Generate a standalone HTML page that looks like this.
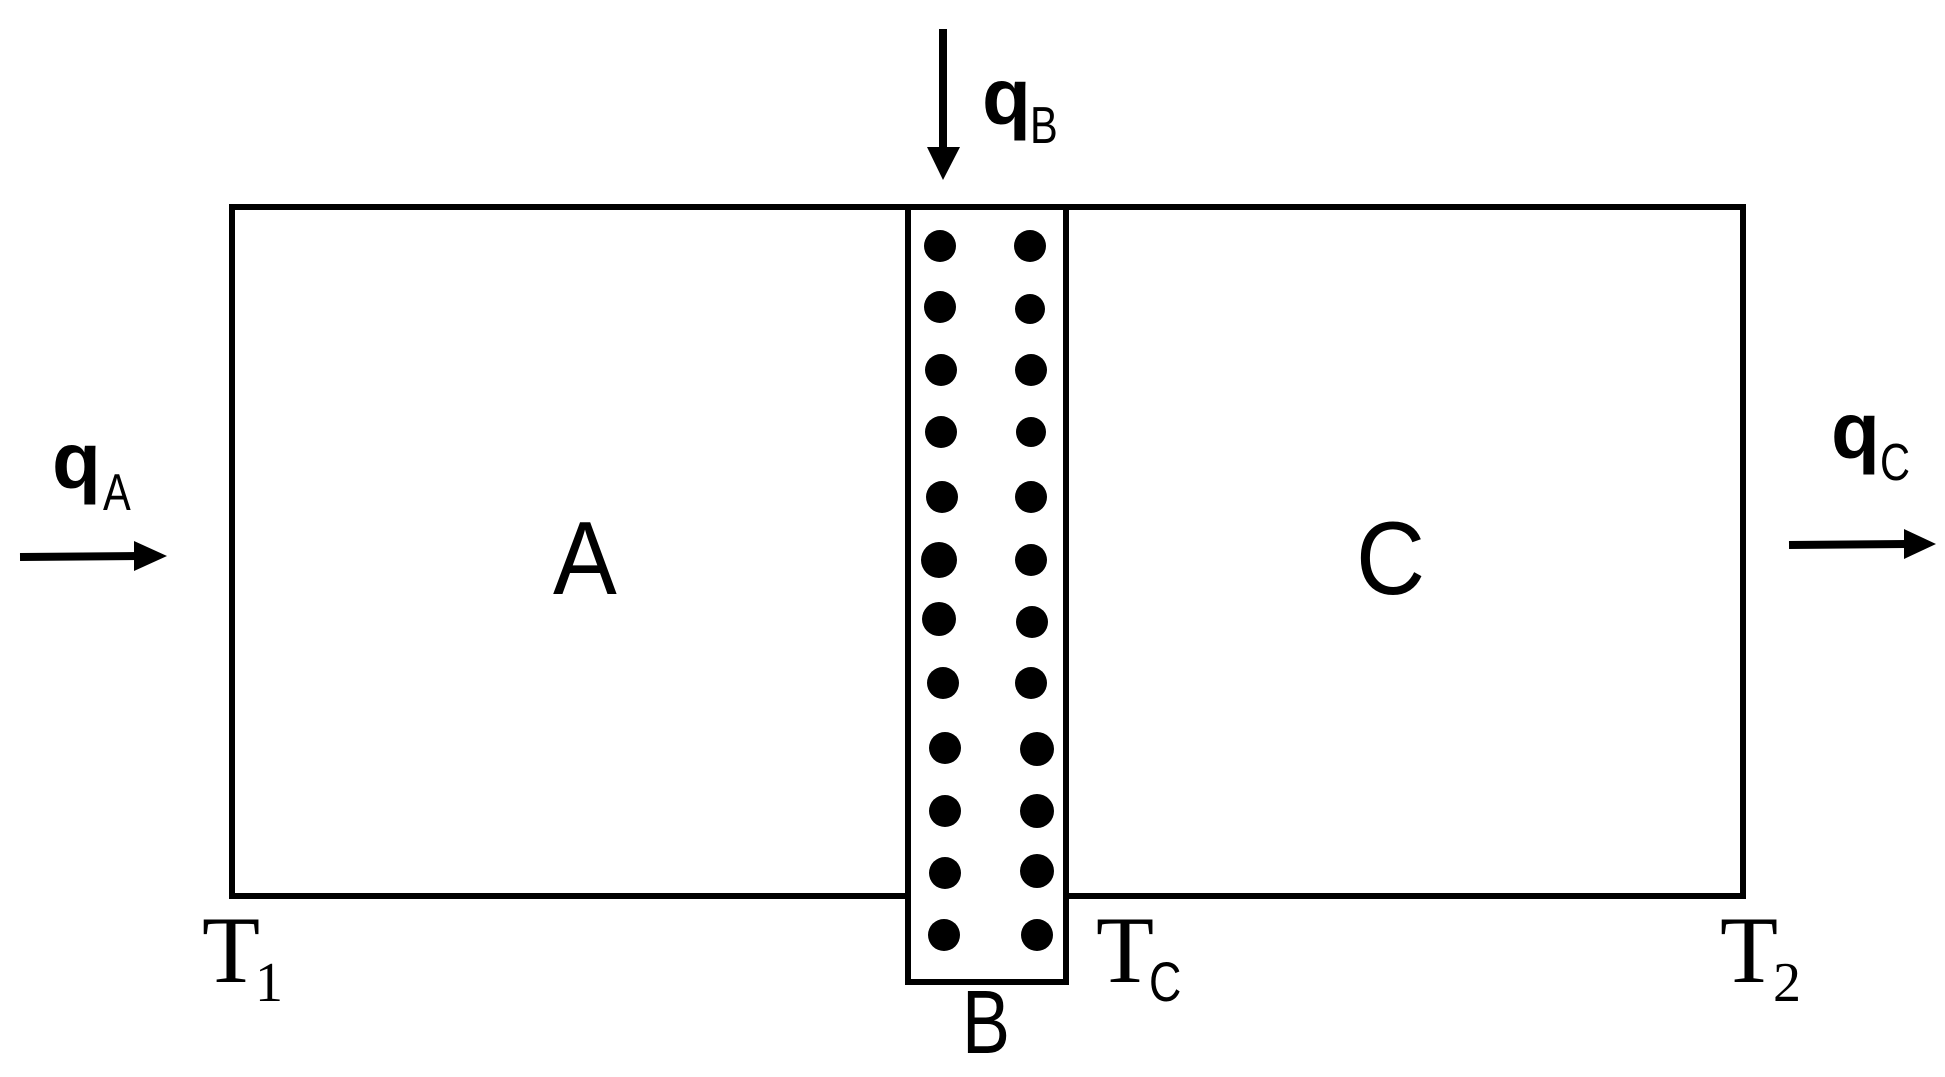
<!DOCTYPE html>
<html><head><meta charset="utf-8"><style>html,body{margin:0;padding:0;background:#fff}</style></head>
<body>
<svg width="1945" height="1072" viewBox="0 0 1945 1072" xmlns="http://www.w3.org/2000/svg">
<rect x="0" y="0" width="1945" height="1072" fill="#fff"/>
<g stroke="#000" stroke-width="6" fill="none">
<rect x="232" y="207" width="1511" height="689"/>
<rect x="908" y="207" width="158" height="775" fill="#fff"/>
</g>
<g fill="#000">
<circle cx="940" cy="246" r="16"/><circle cx="1030" cy="246" r="16"/>
<circle cx="940" cy="307" r="16"/><circle cx="1030" cy="309" r="15"/>
<circle cx="941" cy="370" r="16"/><circle cx="1031" cy="370" r="16"/>
<circle cx="941" cy="432" r="16"/><circle cx="1031" cy="432" r="15"/>
<circle cx="942" cy="497" r="16"/><circle cx="1031" cy="497" r="16"/>
<circle cx="939" cy="560" r="18"/><circle cx="1031" cy="560" r="16"/>
<circle cx="939" cy="619" r="17"/><circle cx="1032" cy="622" r="16"/>
<circle cx="943" cy="683" r="16"/><circle cx="1031" cy="683" r="16"/>
<circle cx="945" cy="748" r="16"/><circle cx="1037" cy="749" r="17"/>
<circle cx="945" cy="811" r="16"/><circle cx="1037" cy="811" r="17"/>
<circle cx="945" cy="873" r="16"/><circle cx="1037" cy="871" r="17"/>
<circle cx="944" cy="935" r="16"/><circle cx="1037" cy="935" r="16"/>
</g>
<g stroke="#000" stroke-width="8">
<line x1="943" y1="29" x2="943" y2="155"/>
<line x1="20" y1="557" x2="140" y2="556"/>
<line x1="1789" y1="545" x2="1910" y2="544"/>
</g>
<polygon points="927,147 960,147 943,180" fill="#000"/>
<polygon points="134,541 167,556 134,571" fill="#000"/>
<polygon points="1904,529 1936,544 1904,559" fill="#000"/>
<g font-family="Liberation Sans, sans-serif" fill="#000">
<text transform="translate(553,594) scale(0.92,1)" font-size="104">A</text>
<text transform="translate(1356,594) scale(0.92,1)" font-size="104">C</text>
<text transform="translate(962,1053) scale(0.8,1)" font-size="90">B</text>
<text x="52" y="488" font-size="80" font-weight="bold">q</text>
<text transform="translate(103,510) scale(0.8,1)" font-size="52">A</text>
<text x="982" y="124" font-size="80" font-weight="bold">q</text>
<text transform="translate(1030,143) scale(0.8,1)" font-size="52">B</text>
<text x="1831" y="458" font-size="80" font-weight="bold">q</text>
<text transform="translate(1880,480) scale(0.8,1)" font-size="52">C</text>
</g>
<g font-family="Liberation Serif, serif" fill="#000">
<text x="202" y="982" font-size="95">T</text>
<text x="255" y="1001" font-size="56">1</text>
<text x="1096" y="982" font-size="95">T</text>
<text transform="translate(1149,1001) scale(0.8,1)" font-size="56" font-family="Liberation Sans, sans-serif">C</text>
<text x="1720" y="982" font-size="95">T</text>
<text x="1773" y="1001" font-size="56">2</text>
</g>
</svg>
</body></html>
